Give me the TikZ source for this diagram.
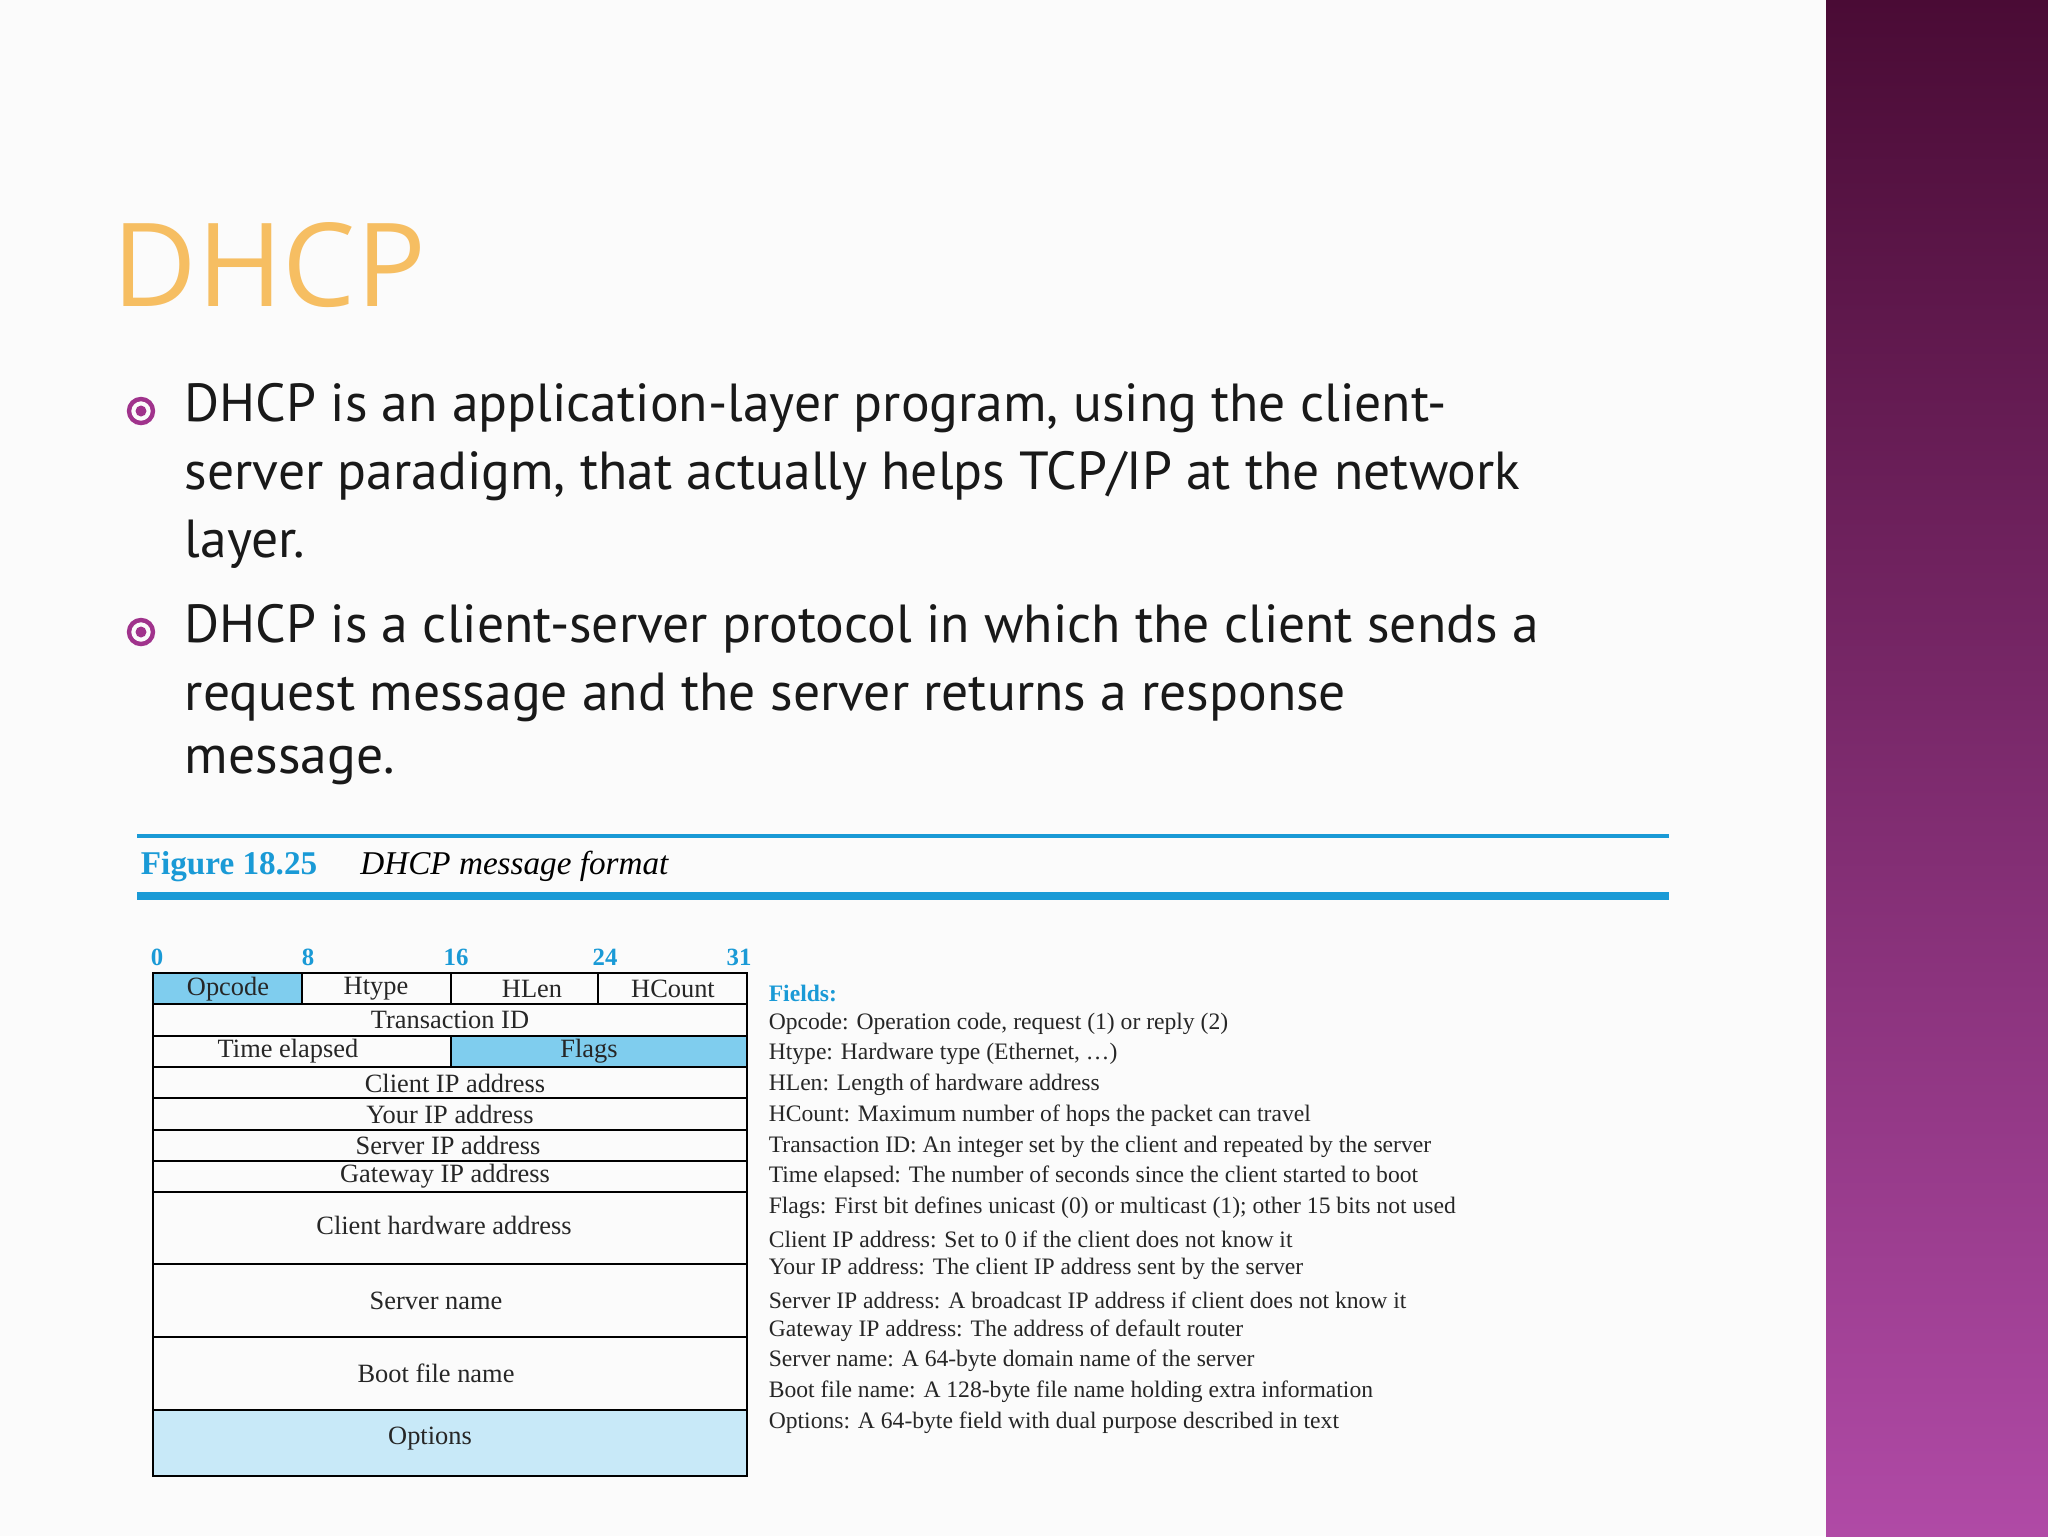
\documentclass[tikz,border=0pt]{standalone}
\usepackage{fontspec}
\setmainfont{Liberation Serif}
\newfontfamily\bodyf{PT Sans}
\newfontfamily\titlef{Open Sans}
\begin{document}
\begin{tikzpicture}[x=0.25pt,y=-0.25pt,
  cell/.style={draw=black,line width=0.35pt},
  tabtxt/.style={font=\fontsize{6.6}{7}\selectfont,text=black!85,inner sep=0},
  fld/.style={anchor=west,font=\fontsize{5.9}{6}\selectfont,text=black!85,inner sep=0},
  bit/.style={font=\fontsize{6.2}{7}\selectfont\bfseries,text=figblue,inner sep=0},
  bodyt/.style={anchor=west,font=\bodyf\fontsize{13.4}{17}\selectfont,text=black!90,inner sep=0}]
\definecolor{figblue}{HTML}{1A9AD6}
\definecolor{cellblue}{HTML}{7FCDEE}
\definecolor{optblue}{HTML}{C8E9F8}
\definecolor{bulc}{HTML}{A0338C}
\definecolor{titc}{HTML}{F6BE62}
\definecolor{bandtop}{HTML}{4A0B35}
\definecolor{bandbot}{HTML}{B04AA6}
\useasboundingbox (0,0) rectangle (2048,1536);
\fill[white!97!gray] (0,0) rectangle (1826,1536);
\shade[top color=bandtop, bottom color=bandbot] (1826,0) rectangle (2048,1536);
% title
\node[anchor=west,inner sep=0,font=\titlef\fontsize{29}{30}\selectfont,text=titc] (title) at (112,265) {DHCP};
% bullets
\draw[bulc,line width=1.1pt] (141,411) circle (12);
\fill[bulc] (141,411) circle (5.5);
\draw[bulc,line width=1.1pt] (141,632) circle (12);
\fill[bulc] (141,632) circle (5.5);
\node[bodyt] (l1) at (184,408) {DHCP is an application-layer program, using the client-};
\node[bodyt] (l2) at (184,476) {server paradigm, that actually helps TCP/IP at the network};
\node[bodyt] (l3) at (184,544) {layer.};
\node[bodyt] (l4) at (184,629) {DHCP is a client-server protocol in which the client sends a};
\node[bodyt] (l5) at (184,697) {request message and the server returns a response};
\node[bodyt] (l6) at (184,765) {message.};
% figure caption
\draw[figblue,line width=0.8pt] (137,836) -- (1669,836);
\draw[figblue,line width=2.2pt] (137,896) -- (1669,896);
\node[anchor=west,inner sep=0,font=\fontsize{8.3}{9}\selectfont] (cap) at (140,866) {\textcolor{figblue}{\textbf{Figure 18.25}}\hspace{1.3em}\textit{DHCP message format}};
% bits
\node[bit] (n0) at (157,957) {0};
\node[bit] (n8) at (308,957) {8};
\node[bit] (n16) at (456,957) {16};
\node[bit] (n24) at (605,957) {24};
\node[bit] (n31) at (739,957) {31};
% table
\fill[cellblue] (153,973) rectangle (302,1004);
\fill[cellblue] (451,1036) rectangle (747,1067);
\fill[optblue] (153,1410) rectangle (747,1476);
\draw[cell] (153,973) rectangle (747,1476);
\foreach \y in {1004,1036,1067,1098,1130,1161,1192,1264,1337,1410}
  \draw[cell] (153,\y) -- (747,\y);
\foreach \x in {302,451,598} \draw[cell] (\x,973) -- (\x,1004);
\draw[cell] (451,1036) -- (451,1067);
\node[tabtxt] (c1) at (228,989) {Opcode};
\node[tabtxt] (c2) at (376,989) {Htype};
\node[tabtxt] (c3) at (532,989) {HLen};
\node[tabtxt] (c4) at (673,989) {HCount};
\node[tabtxt] (c5) at (450,1020) {Transaction ID};
\node[tabtxt] (c6) at (288,1051) {Time elapsed};
\node[tabtxt] (c7) at (589,1051) {Flags};
\node[tabtxt] (c8) at (455,1083) {Client IP address};
\node[tabtxt] (c9) at (450,1114) {Your IP address};
\node[tabtxt] (c10) at (448,1145) {Server IP address};
\node[tabtxt] (c11) at (445,1176) {Gateway IP address};
\node[tabtxt] (c12) at (444,1225) {Client hardware address};
\node[tabtxt] (c13) at (436,1301) {Server name};
\node[tabtxt] (c14) at (436,1373) {Boot file name};
\node[tabtxt] (c15) at (430,1439) {Options};
% fields
\node[fld,text=figblue,font=\fontsize{5.9}{6}\selectfont\bfseries] (f0) at (768,993) {Fields:};
\node[fld] (f1) at (768,1024) {Opcode: Operation code, request (1) or reply (2)};
\node[fld] (f2) at (768,1054) {Htype: Hardware type (Ethernet, \ldots)};
\node[fld] (f3) at (768,1085) {HLen: Length of hardware address};
\node[fld] (f4) at (768,1116) {HCount: Maximum number of hops the packet can travel};
\node[fld] (f5) at (768,1147) {Transaction ID: An integer set by the client and repeated by the server};
\node[fld] (f6) at (768,1177) {Time elapsed: The number of seconds since the client started to boot};
\node[fld] (f7) at (768,1208) {Flags: First bit defines unicast (0) or multicast (1); other 15 bits not used};
\node[fld] (f8) at (768,1239) {Client IP address: Set to 0 if the client does not know it};
\node[fld] (f9) at (768,1269) {Your IP address: The client IP address sent by the server};
\node[fld] (f10) at (768,1300) {Server IP address: A broadcast IP address if client does not know it};
\node[fld] (f11) at (768,1331) {Gateway IP address: The address of default router};
\node[fld] (f12) at (768,1361) {Server name: A 64-byte domain name of the server};
\node[fld] (f13) at (768,1392) {Boot file name: A 128-byte file name holding extra information};
\node[fld] (f14) at (768,1423) {Options: A 64-byte field with dual purpose described in text};
\end{tikzpicture}
\end{document}
